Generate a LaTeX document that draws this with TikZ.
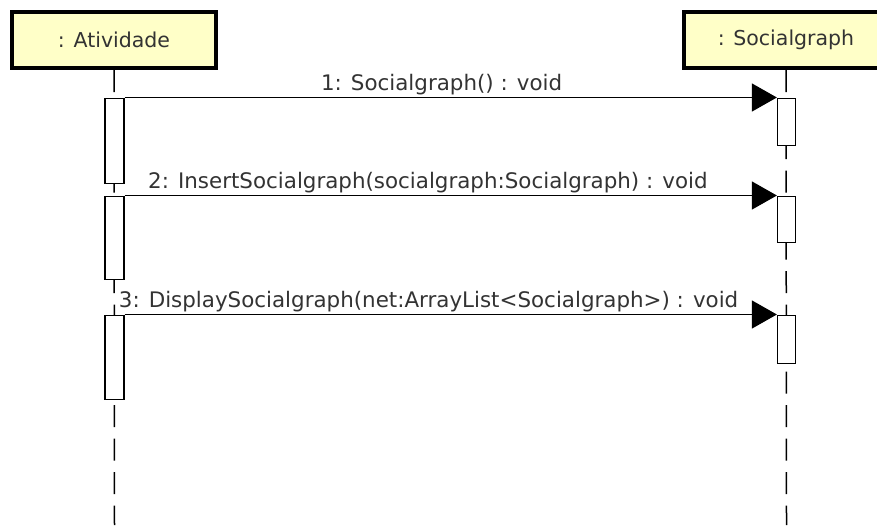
\documentclass[tikz,border=0pt]{standalone}
\usepackage{fontspec}
\setmainfont{DejaVu Sans}
\usepackage{xcolor}
\usetikzlibrary{arrows.meta}

\definecolor{objyellow}{RGB}{255,255,200}
\definecolor{txtgray}{RGB}{51,51,51}

\begin{document}
\begin{tikzpicture}[x=1pt,y=1pt,
  obj/.style={rectangle,draw,line width=4pt,fill=objyellow,
              minimum width=204pt,minimum height=56pt,text=txtgray,
              font=\fontsize{20.5}{24}\selectfont},
  bar/.style={rectangle,draw,line width=1.3pt,fill=white,
              minimum width=19pt,inner sep=0pt,anchor=north},
  life/.style={line width=1.5pt,dash pattern=on 22pt off 11.5pt},
  msg/.style={-{Triangle[length=25pt,width=28pt]},line width=1.4pt},
  lbl/.style={anchor=base,yshift=7pt,text=txtgray,
              font=\fontsize{21.4}{25}\selectfont}]
\fill[white] (0,0) rectangle (877,-525);
\useasboundingbox (0,0) rectangle (877,-525);
% objects
\node[obj] (ativ) at (114,-40) {: Atividade};
\node[obj] (social) at (786,-40) {: Socialgraph};
% lifelines
\coordinate (ativend) at (114.5,-525);
\coordinate (socialend) at (786.5,-525);
\draw[life] (ativ.south) -- (ativend);
\draw[life] (social.south) -- (socialend);
% activations
\node[bar,minimum height=85pt] (a1) at (114.5,-97.5) {};
\node[bar,minimum height=83pt] (a2) at (114.5,-195.5) {};
\node[bar,minimum height=84pt] (a3) at (114.5,-314.5) {};
\node[bar,minimum height=47pt,minimum width=18pt] (b1) at (786.5,-97.5) {};
\node[bar,minimum height=46pt,minimum width=18pt] (b2) at (786.5,-195.5) {};
\node[bar,minimum height=48pt,minimum width=18pt] (b3) at (786.5,-314.5) {};
% messages
\draw[msg] (a1.north east) -- node[lbl,pos=.486]{1: Socialgraph() : void} (b1.north west);
\draw[msg] (a2.north east) -- node[lbl,pos=.465]{2: InsertSocialgraph(socialgraph:Socialgraph) : void} (b2.north west);
\draw[msg] (a3.north east) -- node[lbl,pos=.466]{3: DisplaySocialgraph(net:ArrayList<Socialgraph>) : void} (b3.north west);
\end{tikzpicture}
\end{document}
